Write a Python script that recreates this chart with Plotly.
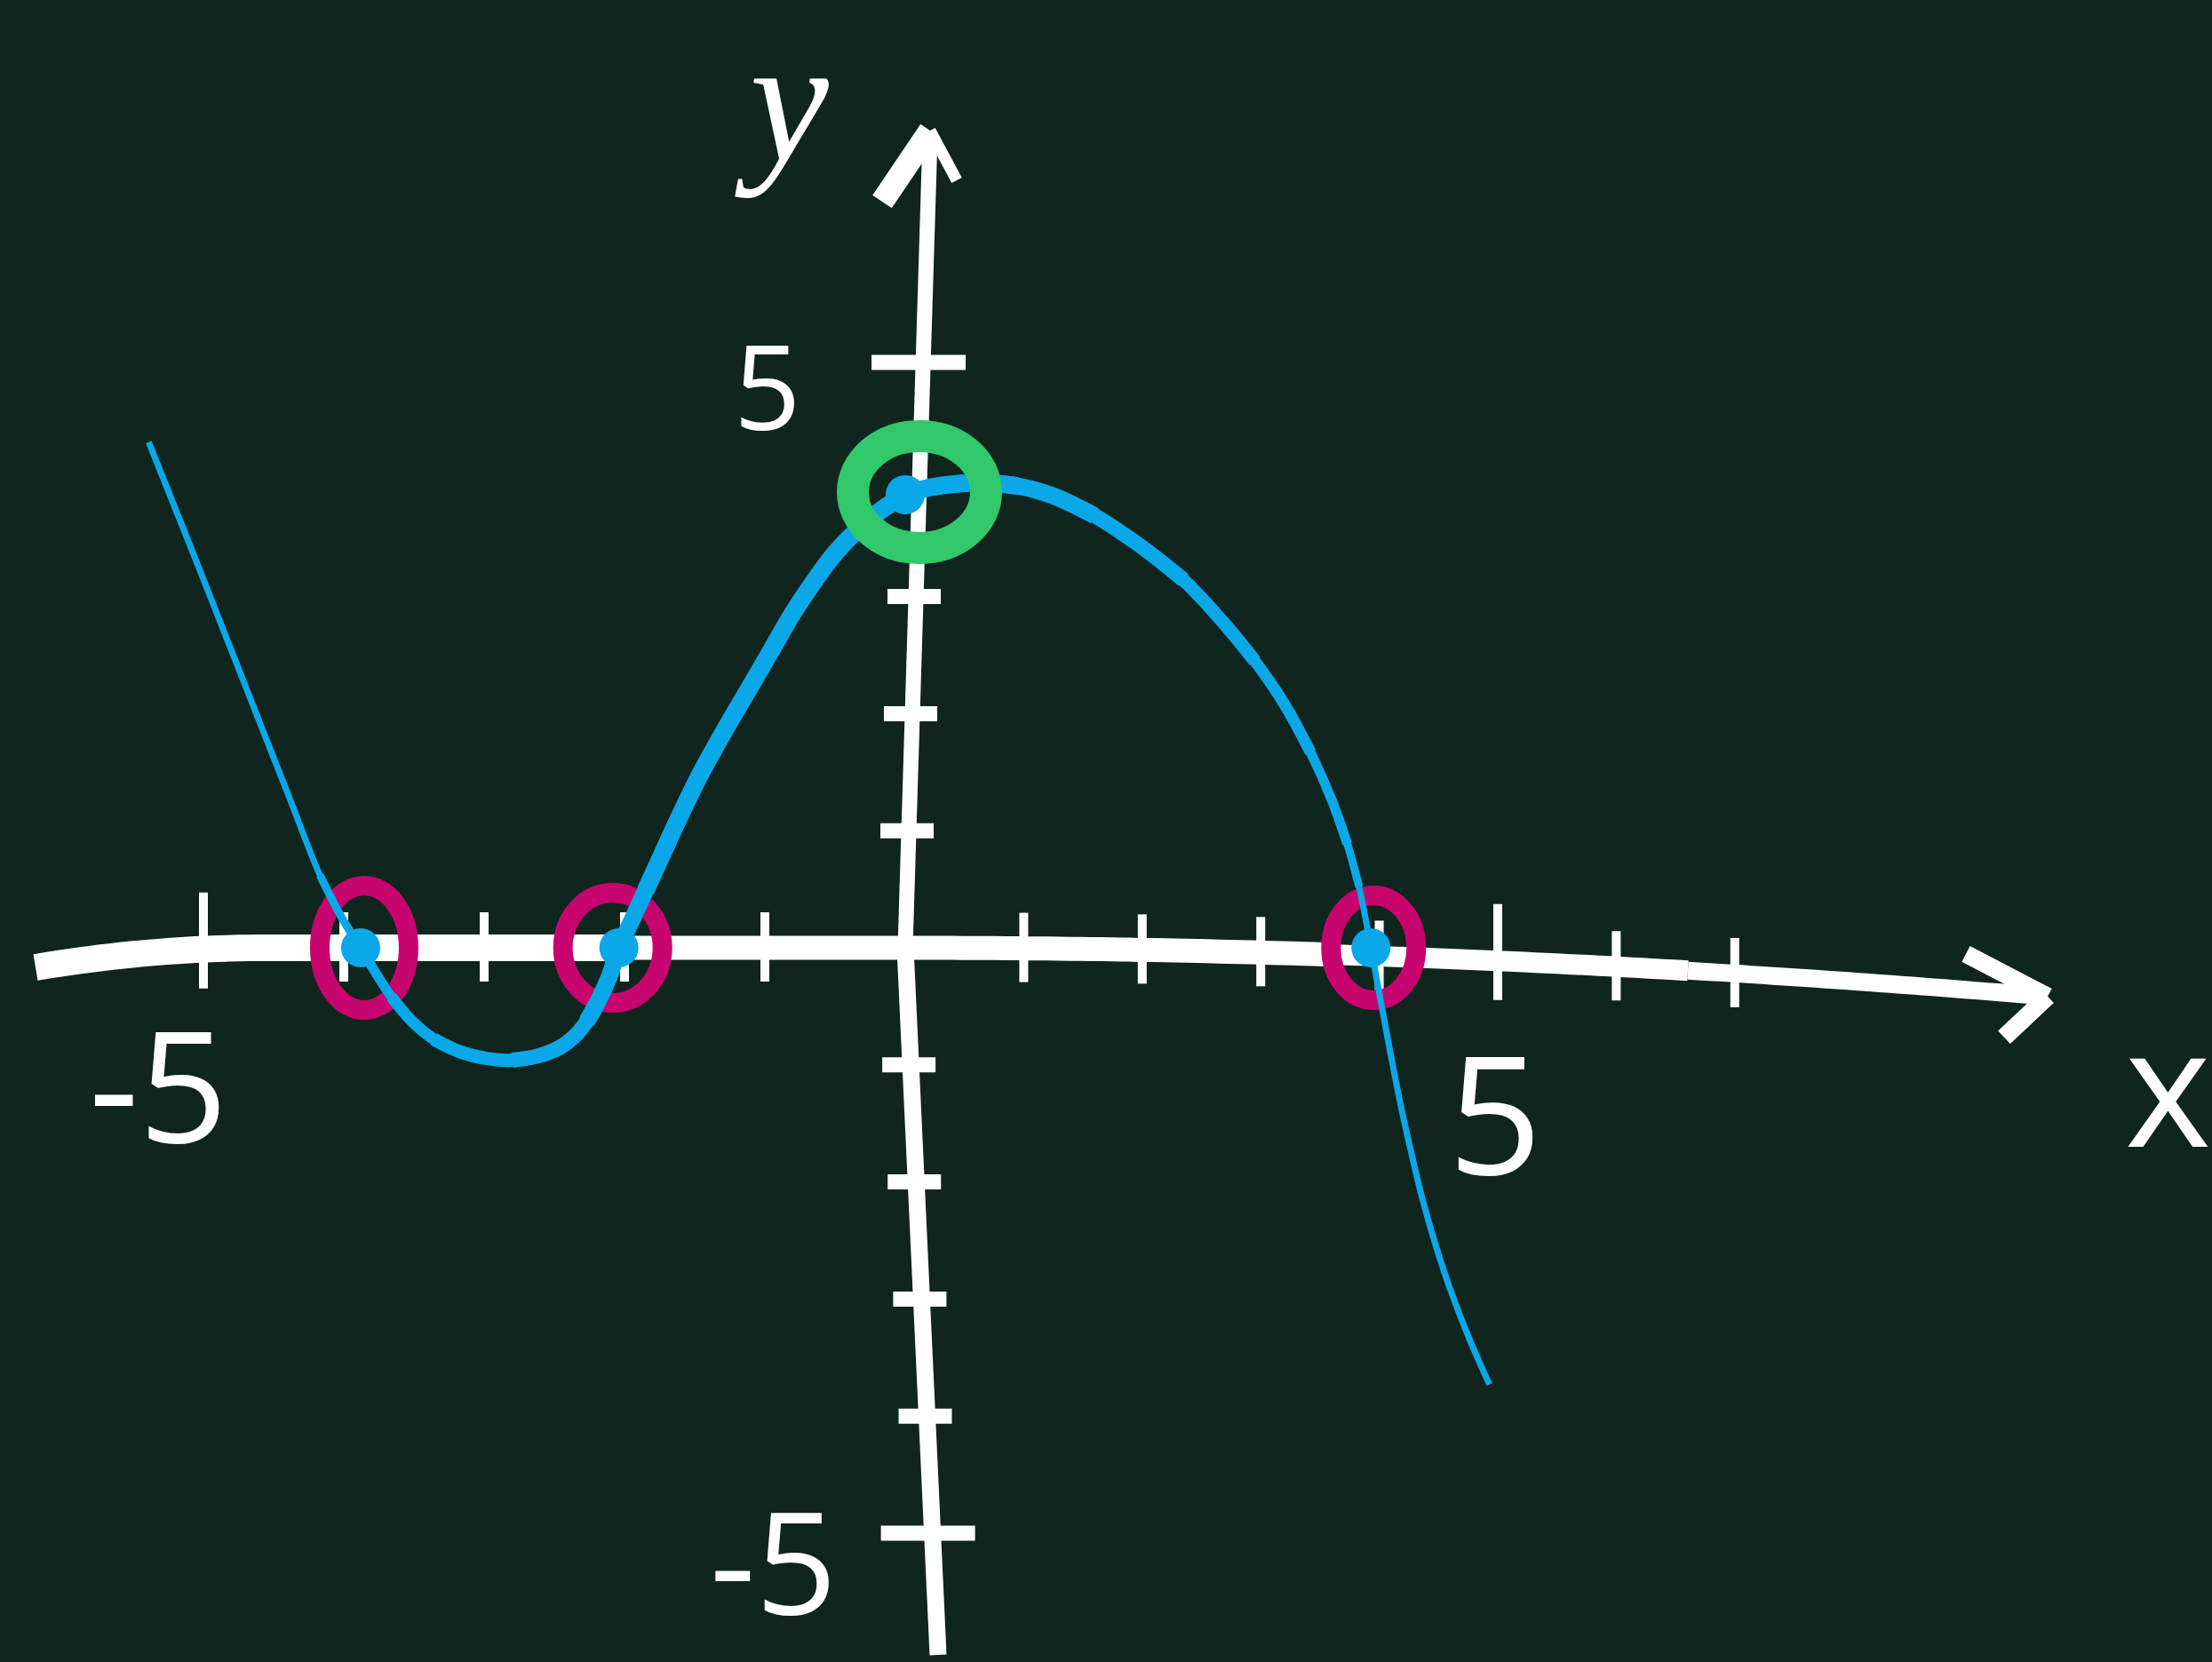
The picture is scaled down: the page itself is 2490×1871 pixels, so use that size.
import plotly.graph_objects as go

# ---------------- values ----------------
# hand-sketched polynomial, sampled along the drawn stroke (x ascending)
curve_x = [-5.39, -5.28, -5.08, -4.85, -4.62, -4.39, -4.17, -4.02, -3.88,
           -3.78, -3.66, -3.52, -3.36, -3.18, -2.98, -2.80, -2.62, -2.46,
           -2.36, -2.27, -2.19, -2.11, -2.04,
           -1.95, -1.85, -1.75, -1.62, -1.47, -1.30, -1.12, -0.95, -0.80,
           -0.65, -0.50, -0.33, -0.17, 0.0,
           0.20, 0.45, 0.70, 0.95, 1.25, 1.60, 2.00, 2.35, 2.70, 2.95, 3.20,
           3.42, 3.60, 3.73, 3.83, 3.93,
           3.97, 4.03, 4.10, 4.18, 4.27, 4.36, 4.47, 4.60, 4.76, 4.93]
curve_y = [4.32, 3.99, 3.39, 2.69, 1.99, 1.29, 0.62, 0.27, 0.0,
           -0.20, -0.42, -0.62, -0.78, -0.885, -0.945, -0.96, -0.925, -0.85,
           -0.76, -0.63, -0.46, -0.25, 0.0,
           0.23, 0.49, 0.75, 1.09, 1.46, 1.83, 2.20, 2.55, 2.86,
           3.13, 3.37, 3.58, 3.74, 3.87,
           3.93, 3.965, 3.97, 3.945, 3.86, 3.69, 3.42, 3.14, 2.76, 2.45, 2.08,
           1.67, 1.26, 0.89, 0.52, 0.0,
           -0.22, -0.55, -0.93, -1.34, -1.75, -2.13, -2.52, -2.92, -3.34, -3.73]

zeros_x = [-3.88, -2.04, 3.93]      # x-intercepts (circled in magenta)
intercept_y = 3.87                  # y-intercept (circled in green)

x_tick_values = [-5, -4, -3, -2, -1, 1, 2, 3, 4, 5, 6, 7]
y_tick_values = [-5, -4, -3, -2, -1, 1, 2, 3, 5]
x_label_values = [-5, 5]
x_label_text = ["-5", "5"]
y_label_values = [5, -5]
y_label_text = ["5", "-5"]

# ---------------- styling ----------------
W, H = 2490, 1871
OX, OY = 1019, 1067                 # where the two axes cross on the board
KX_NEG, KX_POS, KY = 158.0, 133.4, 131.8   # px per unit (the sketch is wider on the left)

BG = "#11251f"
CHALK = "#ffffff"
BLUE = "#0aa8e8"
MAGENTA = "#c8046f"
GREEN = "#31c86b"

# pen pressure: nested strokes laid over a thin base stroke (x from, x to, width)
pen_strokes = [(-99, 99, 7), (-4.17, 3.83, 9), (-3.88, 3.73, 11), (-3.66, 3.42, 13),
               (-3.36, 2.95, 15), (-2.80, 2.35, 17), (-2.27, 1.60, 19), (-1.85, 0.95, 20)]


def paper(px, py):
    return px / W, 1 - py / H


def xref_for(v):
    return "x" if v < 0 else "x2"


fig = go.Figure()


def pen_trace(lo, hi, width, axis):
    pts = [(x, y) for x, y in zip(curve_x, curve_y) if lo <= x <= hi]
    if len(pts) < 2:
        return
    fig.add_trace(go.Scatter(
        x=[p[0] for p in pts], y=[p[1] for p in pts], mode="lines",
        line=dict(color=BLUE, width=width, shape="spline", smoothing=1.0),
        xaxis=axis, yaxis="y", hoverinfo="skip", showlegend=False))


# left half (x <= 0) lives on the wider left axis, right half on the right one
for lo, hi, w in pen_strokes:
    pen_trace(lo, min(hi, 0.0), w, "x")
for lo, hi, w in pen_strokes:
    pen_trace(max(lo, 0.0), hi, w, "x2")

# ---- dots on the intercepts ----
neg = [v for v in zeros_x if v < 0]
pos = [v for v in zeros_x if v >= 0]
dot = dict(color=BLUE, size=44, line=dict(width=0))
fig.add_trace(go.Scatter(x=neg, y=[0] * len(neg), mode="markers", marker=dot,
                         xaxis="x", yaxis="y", cliponaxis=False,
                         hoverinfo="skip", showlegend=False))
fig.add_trace(go.Scatter(x=pos + [0], y=[0] * len(pos) + [intercept_y], mode="markers",
                         marker=dot, xaxis="x2", yaxis="y", cliponaxis=False,
                         hoverinfo="skip", showlegend=False))

shapes = []


def chalk_path(points, width):
    d = "M " + " L ".join(f"{paper(px, py)[0]:.5f},{paper(px, py)[1]:.5f}" for px, py in points)
    shapes.append(dict(type="path", path=d, xref="paper", yref="paper",
                       line=dict(color=CHALK, width=width), layer="below"))


# ---- hand-drawn x axis (droops towards the arrow) ----
def x_axis_drop(px):
    if px >= OX:
        return 55 * ((px - OX) / 1288) ** 2
    return 22 * max(0.0, (300 - px) / 260) ** 2


sections = [(40, 700, 30), (700, 1500, 27), (1500, 1900, 23), (1900, 2300, 20)]
for a, b, w in sections:
    xs = list(range(a, b, 12)) + [b]
    chalk_path([(px, OY + x_axis_drop(px)) for px in xs], w)
# arrow head
tip = (2305, OY + x_axis_drop(2305))
chalk_path([(tip[0] - 92, tip[1] - 48), tip], 20)
chalk_path([tip, (tip[0] - 49, tip[1] + 46)], 20)

# ---- hand-drawn y axis (slight lean) ----
chalk_path([(1047, 152), (OX, OY)], 17)
chalk_path([(OX, OY), (1056, 1863)], 19)
chalk_path([(993, 227), (1047, 147)], 26)
chalk_path([(1047, 147), (1077, 203)], 13)

# ---- x ticks ----
for v in x_tick_values:
    scale = KX_NEG if v < 0 else KX_POS
    drop = x_axis_drop(OX + v * scale)
    up, down = (64, 44) if abs(v) == 5 else (40, 38)
    shapes.append(dict(type="line", xref=xref_for(v), x0=v, x1=v,
                       yref="y", ysizemode="pixel", yanchor=0,
                       y0=-drop - down, y1=-drop + up,
                       line=dict(color=CHALK, width=10), layer="below"))


# ---- y ticks ----
def lean(v):
    if v > 0:
        return 28 * (v * KY / 920)
    return 37 * (-v * KY / 796)


for v in y_tick_values:
    left, right = (58, 48) if abs(v) == 5 else (32, 28)
    t = lean(v)
    shapes.append(dict(type="line", xref="paper", xsizemode="pixel", xanchor=OX / W,
                       x0=t - left, x1=t + right, yref="y", y0=v, y1=v,
                       line=dict(color=CHALK, width=17), layer="below"))

# ---- magenta rings round the x-intercepts ----
ring_sizes = [(50, 70), (56, 62), (48, 59)]
ring_shift = [4, -7, 3]
for v, (rx, ry), dx in zip(zeros_x, ring_sizes, ring_shift):
    shapes.append(dict(type="circle", xref=xref_for(v), xsizemode="pixel", xanchor=v,
                       x0=dx - rx, x1=dx + rx, yref="y", ysizemode="pixel", yanchor=0,
                       y0=-ry, y1=ry, line=dict(color=MAGENTA, width=22),
                       layer="below"))

# ---- green ring round the y-intercept ----
shapes.append(dict(type="circle", xref="paper", xsizemode="pixel", xanchor=OX / W,
                   x0=16 - 75, x1=16 + 75, yref="y", ysizemode="pixel",
                   yanchor=intercept_y, y0=3 - 63, y1=3 + 63,
                   line=dict(color=GREEN, width=36), layer="above"))

# ---- labels ----
annotations = []
label_font = dict(family="Open Sans", color=CHALK)
for v, txt in zip(x_label_values, x_label_text):
    annotations.append(dict(x=v, xref=xref_for(v), y=0, yref="y", text=txt,
                            showarrow=False, xanchor="center", yanchor="middle",
                            xshift=-51 if v < 0 else -3, yshift=-151 if v < 0 else -183,
                            font=dict(size=175 if v < 0 else 185, **label_font)))
for v, txt in zip(y_label_values, y_label_text):
    annotations.append(dict(x=OX / W, xref="paper", y=v, yref="y", text=txt,
                            showarrow=False, xanchor="center", yanchor="middle",
                            xshift=-156 if v > 0 else -149, yshift=-25 if v > 0 else -29,
                            font=dict(size=132 if v > 0 else 160, **label_font)))
yx, _ = paper(880, 0)
annotations.append(dict(x=yx, y=1.0, xref="paper", yref="paper", text="<i>y</i>",
                        showarrow=False, xanchor="center", yanchor="top",
                        font=dict(family="Liberation Serif", size=200, color=CHALK)))
xx, xy = paper(2440, 1219)
annotations.append(dict(x=xx, y=xy, xref="paper", yref="paper", text="x",
                        showarrow=False, xanchor="center", yanchor="middle",
                        font=dict(family="Open Sans", size=185, color=CHALK)))

hidden = dict(visible=False, showgrid=False, zeroline=False, fixedrange=True)
fig.update_layout(
    width=W, height=H, autosize=False,
    margin=dict(l=0, r=0, t=0, b=0, pad=0),
    paper_bgcolor=BG, plot_bgcolor=BG,
    xaxis=dict(domain=[0, OX / W], range=[-OX / KX_NEG, 0], **hidden),
    xaxis2=dict(domain=[OX / W, 1], range=[0, (W - OX) / KX_POS], anchor="y", **hidden),
    yaxis=dict(domain=[0, 1], range=[-(H - OY) / KY, OY / KY], **hidden),
    shapes=shapes, annotations=annotations, showlegend=False,
)

fig.write_html("out.html")
